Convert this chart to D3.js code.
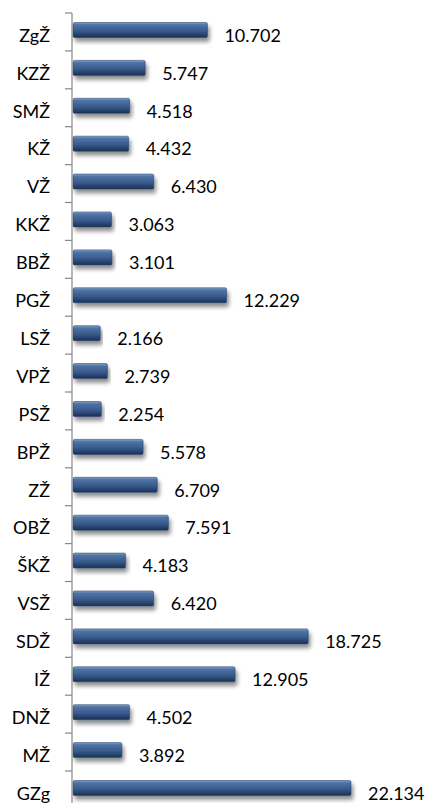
<!DOCTYPE html>
<html>
<head>
<meta charset="UTF-8">
<script src="https://d3js.org/d3.v7.min.js"></script>
<style>
  body { margin: 0; background: #fff; }
  text { font-family: Lato, "Open Sans", sans-serif; font-size: 18px; fill: #000; }
</style>
</head>
<body>
<svg id="chart" width="428" height="803"></svg>
<script>
// data
const categories = ["ZgŽ","KZŽ","SMŽ","KŽ","VŽ","KKŽ","BBŽ","PGŽ","LSŽ","VPŽ","PSŽ",
                    "BPŽ","ZŽ","OBŽ","ŠKŽ","VSŽ","SDŽ","IŽ","DNŽ","MŽ","GZg"];
const values = [10.702,5.747,4.518,4.432,6.430,3.063,3.101,12.229,2.166,2.739,2.254,
                5.578,6.709,7.591,4.183,6.420,18.725,12.905,4.502,3.892,22.134];
const labels = ["10.702","5.747","4.518","4.432","6.430","3.063","3.101","12.229","2.166","2.739","2.254",
                "5.578","6.709","7.591","4.183","6.420","18.725","12.905","4.502","3.892","22.134"];

const svg = d3.select("#chart");
const axisX = 72, plotTop = 13, band = 37.9;

const x = d3.scaleLinear().domain([0, 22.134]).range([axisX + 1, 351]);
const y = d3.scaleBand().domain(categories).range([plotTop, plotTop + band * categories.length]);

const defs = svg.append("defs");
const grad = defs.append("linearGradient").attr("id", "barGrad")
  .attr("x1", 0).attr("y1", 0).attr("x2", 0).attr("y2", 1);
grad.append("stop").attr("offset", "0%").attr("stop-color", "#8aa6cc");
grad.append("stop").attr("offset", "15%").attr("stop-color", "#4f74a6");
grad.append("stop").attr("offset", "55%").attr("stop-color", "#3a5b8c");
grad.append("stop").attr("offset", "85%").attr("stop-color", "#243f69");
grad.append("stop").attr("offset", "100%").attr("stop-color", "#1a2f52");

const f = defs.append("filter").attr("id", "shadow")
  .attr("x", "-5%").attr("y", "-30%").attr("width", "115%").attr("height", "200%");
f.append("feGaussianBlur").attr("in", "SourceAlpha").attr("stdDeviation", 2.2);
f.append("feOffset").attr("dx", 2).attr("dy", 4).attr("result", "b");
f.append("feComponentTransfer").append("feFuncA").attr("type", "linear").attr("slope", 0.45);
const m = f.append("feMerge");
m.append("feMergeNode");
m.append("feMergeNode").attr("in", "SourceGraphic");

// bars
svg.append("g").selectAll("rect")
  .data(categories)
  .join("rect")
  .attr("x", x(0))
  .attr("y", d => y(d) + 9.5)
  .attr("width", (d, i) => x(values[i]) - x(0))
  .attr("height", 15)
  .attr("rx", 1.5)
  .attr("fill", "url(#barGrad)")
  .attr("stroke", "#2a4670")
  .attr("stroke-width", 0.6)
  .attr("filter", "url(#shadow)");

// value labels
svg.append("g").selectAll("text")
  .data(categories)
  .join("text")
  .attr("x", (d, i) => x(values[i]) + 17)
  .attr("y", d => y(d) + 28.7)
  .text((d, i) => labels[i]);

// category axis
const axis = svg.append("g");
axis.append("line")
  .attr("x1", axisX).attr("x2", axisX)
  .attr("y1", plotTop).attr("y2", 803)
  .attr("stroke", "#888").attr("stroke-width", 1.2);
axis.selectAll("line.tick")
  .data(categories)
  .join("line")
  .attr("class", "tick")
  .attr("x1", axisX - 7).attr("x2", axisX)
  .attr("y1", d => y(d)).attr("y2", d => y(d))
  .attr("stroke", "#888").attr("stroke-width", 1.2);
axis.selectAll("text")
  .data(categories)
  .join("text")
  .attr("x", 50)
  .attr("y", d => y(d) + 28.7)
  .attr("text-anchor", "end")
  .text(d => d);
</script>
</body>
</html>
